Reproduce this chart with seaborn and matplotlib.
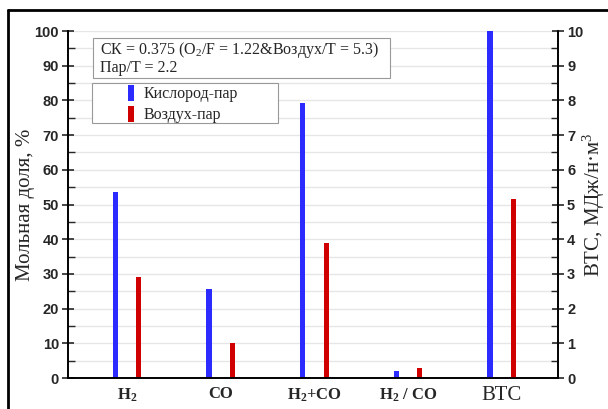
import numpy as np
import pandas as pd
import matplotlib
matplotlib.use("Agg")
import matplotlib.pyplot as plt
from matplotlib.lines import Line2D
from matplotlib.patches import Patch, Rectangle
import seaborn as sns

categories = ["H2", "CO", "H2+CO", "H2/CO", "ВТС"]
tick_labels = [r"$\mathbf{H_2}$", "CO", r"$\mathbf{H_2}$+CO", r"$\mathbf{H_2}$ / CO", "ВТС"]
series = ["Кислород-пар", "Воздух-пар"]
oxygen_steam = [53.5, 25.7, 79.2, 2.08]   # mole fraction, %
air_steam = [29.0, 10.0, 39.0, 2.9]
hhv_oxygen = 10.0   # MJ/nm3
hhv_air = 5.15

colors = {"Кислород-пар": "#2b2bff", "Воздух-пар": "#d00000"}

df_left = pd.DataFrame({
    "cat": categories[:4] * 2,
    "val": oxygen_steam + air_steam,
    "series": [series[0]] * 4 + [series[1]] * 4,
})
df_right = pd.DataFrame({
    "cat": ["ВТС", "ВТС"],
    "val": [hhv_oxygen, hhv_air],
    "series": series,
})

sns.set_style("white")
plt.rcParams["font.family"] = ["Liberation Sans", "DejaVu Sans"]
plt.rcParams["mathtext.fontset"] = "custom"
plt.rcParams["mathtext.rm"] = "Liberation Serif"
plt.rcParams["mathtext.bf"] = "Liberation Serif:bold"
plt.rcParams["mathtext.it"] = "Liberation Serif:italic"

W, H = 608, 409
AX_L, AX_R, AX_T, AX_B = 68, 558, 31, 378
AW, AH = AX_R - AX_L, AX_B - AX_T

fig = plt.figure(figsize=(6.08, 4.09), dpi=100)
ax = fig.add_axes([AX_L / W, 1 - AX_B / H, AW / W, AH / H])
ax2 = ax.twinx()

sns.barplot(data=df_left, x="cat", y="val", hue="series", order=categories,
            hue_order=series, palette=colors, width=0.5, gap=0.78,
            ax=ax, legend=False, saturation=1, linewidth=0)
sns.barplot(data=df_right, x="cat", y="val", hue="series", order=categories,
            hue_order=series, palette=colors, width=0.5, gap=0.78,
            ax=ax2, legend=False, saturation=1, linewidth=0)

for a in (ax, ax2):
    a.set_xlim(-0.63, 4.60)

ax.set_ylim(0, 100)
ax2.set_ylim(0, 10)
ax.set_yticks(np.arange(0, 101, 10))
ax.set_yticks(np.arange(5, 100, 10), minor=True)
ax2.set_yticks(np.arange(0, 11, 1))
ax2.set_yticks(np.arange(0.5, 10, 1), minor=True)

ax.grid(True, axis="y", which="both", color="#e6e6e6", linewidth=1.0)
ax.set_axisbelow(True)
ax2.grid(False)

for a in (ax, ax2):
    for s in a.spines.values():
        s.set_linewidth(1.2)
        s.set_color("black")
    a.spines["top"].set_visible(False)

ax.tick_params(axis="y", which="major", direction="inout", length=9, width=1.2,
               labelsize=10.5, left=True, pad=2)
ax.tick_params(axis="y", which="minor", direction="in", length=5, width=1.0, left=True)
ax2.tick_params(axis="y", which="major", direction="inout", length=9, width=1.2,
                labelsize=10.5, right=True, pad=2)
ax2.tick_params(axis="y", which="minor", direction="in", length=5, width=1.0, right=True)
for lab in ax.get_yticklabels() + ax2.get_yticklabels():
    lab.set_fontweight("bold")

ax.set_xticks(range(5))
ax.set_xticklabels(tick_labels)
ax.tick_params(axis="x", length=0, pad=6)
for i, lab in enumerate(ax.get_xticklabels()):
    lab.set_fontfamily("Liberation Serif")
    if i == 4:
        lab.set_fontsize(15)
        lab.set_fontweight("normal")
    else:
        lab.set_fontsize(12)
        lab.set_fontweight("bold")
ax.set_xlabel("")

ax.set_ylabel("Мольная доля, %", fontfamily="Liberation Serif", fontsize=15)
ax2.set_ylabel("ВТС, МДж/н·м$^3$", fontfamily="Liberation Serif", fontsize=15)
ax.yaxis.set_label_coords((35 - AX_L) / AW, 0.5)
ax2.yaxis.set_label_coords((581 - AX_L) / AW, 0.5)


def axx(px):
    return (px - AX_L) / AW


def axy(py):
    return (AX_B - py) / AH


# annotation box
ax2.add_patch(Rectangle((axx(93), axy(78)), 297 / AW, 40 / AH, transform=ax.transAxes,
                        facecolor="white", edgecolor="#999999", linewidth=0.8,
                        zorder=5, clip_on=False))
ax2.text(axx(100), axy(58),
         "СК = 0.375 (O$_2$/F = 1.22&Воздух/T = 5.3)\nПар/T = 2.2",
         transform=ax.transAxes, ha="left", va="center",
         fontfamily="Liberation Serif", fontsize=11.5, linespacing=1.05, zorder=6)

# legend box
ax2.add_patch(Rectangle((axx(92), axy(123)), 186 / AW, 40 / AH, transform=ax.transAxes,
                        facecolor="white", edgecolor="#999999", linewidth=0.8,
                        zorder=5, clip_on=False))
handles = [Patch(facecolor=colors[s], edgecolor="none") for s in series]
leg = ax2.legend(handles, series, loc="center left", bbox_to_anchor=(axx(128), axy(104)),
                 bbox_transform=ax.transAxes,
                 frameon=False, prop={"family": "Liberation Serif", "size": 11.5},
                 handlelength=0.35, handleheight=1.25, handletextpad=0.6,
                 borderpad=0.0, labelspacing=0.2, borderaxespad=0)
leg.set_zorder(7)

# outer frame lines (top and left)
fig.add_artist(Line2D([8 / W, 1.0], [1 - 10 / H, 1 - 10 / H],
                      transform=fig.transFigure, color="black", linewidth=2))
fig.add_artist(Line2D([8 / W, 8 / W], [0, 1 - 10 / H],
                      transform=fig.transFigure, color="black", linewidth=2))

fig.savefig("out.png", dpi=100)
